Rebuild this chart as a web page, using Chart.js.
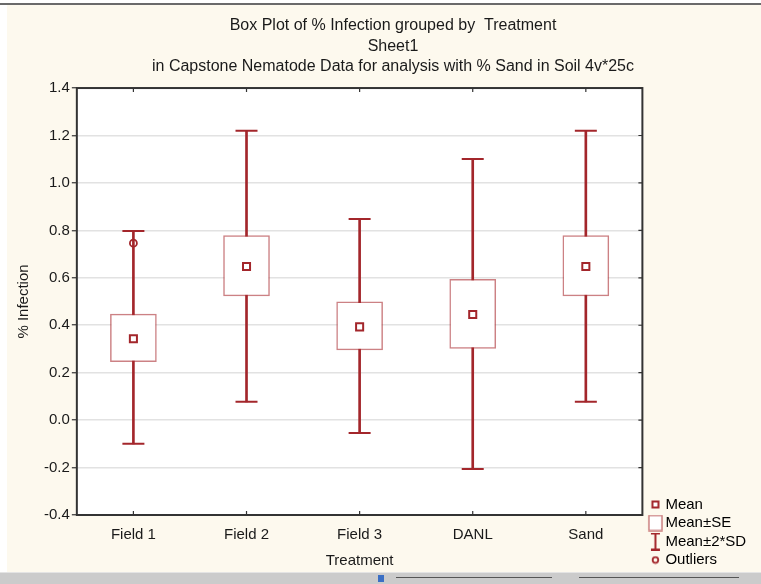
<!DOCTYPE html>
<html>
<head>
<meta charset="utf-8">
<script src="https://cdn.jsdelivr.net/npm/chart.js@4.4.1/dist/chart.umd.min.js"></script>
<style>
  body { margin: 0; background: #ffffff; overflow: hidden; width: 761px; height: 584px; position: relative; }
  #paper { position: absolute; left: 7px; top: 5px; width: 754px; height: 567px; background: #fdf9ee; }
  #topline { position: absolute; left: 0; top: 3px; width: 761px; height: 2px; background: #6a6a6a; }
  #strip { position: absolute; left: 0; top: 572px; width: 761px; height: 12px; background: #cbcbcb; border-top: 1px solid #e4e4e4; }
  .sl { position: absolute; top: 577px; height: 1px; background: #555; }
  #wrap { position: absolute; left: 0; top: 0; }
</style>
</head>
<body>
<div id="paper"></div>
<div id="wrap"><canvas id="chart" width="777" height="571"></canvas></div>
<div id="topline"></div>
<div id="strip"></div>
<div class="sl" style="left:396px;width:156px"></div>
<div class="sl" style="left:579px;width:160px"></div>
<div style="position:absolute;left:378px;top:575px;width:6px;height:7px;background:#3b6fc4"></div>
<script>
var treatments = ['Field 1', 'Field 2', 'Field 3', 'DANL', 'Sand'];
var means = [0.343, 0.648, 0.393, 0.445, 0.648];
var seLow = [0.246, 0.524, 0.296, 0.302, 0.524];
var seHigh = [0.447, 0.778, 0.499, 0.594, 0.778];
var sdLow = [-0.100, 0.077, -0.054, -0.206, 0.077];
var sdHigh = [0.797, 1.220, 0.848, 1.101, 1.220];
var outliers = [0.746, null, null, null, null];
var yTicks = [-0.4, -0.2, 0.0, 0.2, 0.4, 0.6, 0.8, 1.0, 1.2, 1.4];

var dark = '#a3262b';
var light = 'rgba(170, 45, 50, 0.6)';
var font = 'Liberation Sans, Arial, sans-serif';

// legend symbols, shifted right a little inside their box
function symbol(w, h, draw) {
    var c = document.createElement('canvas');
    c.width = w + 7;
    c.height = h;
    var g = c.getContext('2d');
    g.translate(7, 0);
    draw(g);
    return c;
}

var meanIcon = symbol(9, 9, function(g) {
    g.fillStyle = '#fff';
    g.fillRect(1, 1, 7, 7);
    g.strokeStyle = dark;
    g.lineWidth = 2;
    g.strokeRect(1.5, 1.5, 6, 6);
});
var seIcon = symbol(15, 17, function(g) {
    g.fillStyle = '#fff';
    g.fillRect(1, 1, 13, 15);
    g.strokeStyle = light;
    g.lineWidth = 1.5;
    g.strokeRect(1, 1, 13, 15);
});
var sdIcon = symbol(11, 18, function(g) {
    g.strokeStyle = dark;
    g.lineWidth = 2;
    g.beginPath();
    g.moveTo(1, 1); g.lineTo(10, 1);
    g.moveTo(5.5, 1); g.lineTo(5.5, 17);
    g.moveTo(1, 17); g.lineTo(10, 17);
    g.stroke();
});
var outIcon = symbol(9, 9, function(g) {
    g.strokeStyle = dark;
    g.lineWidth = 1.8;
    g.beginPath();
    g.arc(4.5, 4.5, 2.8, 0, Math.PI * 2);
    g.stroke();
});

var framePlugin = {
    id: 'frame',
    beforeDraw: function(chart) {
        var a = chart.chartArea;
        chart.ctx.save();
        chart.ctx.fillStyle = '#ffffff';
        chart.ctx.fillRect(a.left, a.top, a.right - a.left, a.bottom - a.top);
        chart.ctx.restore();
    },
    beforeDatasetsDraw: function(chart) {
        var a = chart.chartArea;
        var g = chart.ctx;
        g.save();
        g.strokeStyle = '#333';
        g.lineWidth = 2;
        g.strokeRect(a.left, a.top, a.right - a.left, a.bottom - a.top);
        g.lineWidth = 1.2;
        g.beginPath();
        var x = chart.scales.x;
        for (var i = 0; i < treatments.length; i++) {
            var px = x.getPixelForTick(i);
            g.moveTo(px, a.top); g.lineTo(px, a.top + 4);
            g.moveTo(px, a.bottom); g.lineTo(px, a.bottom - 4);
        }
        var y = chart.scales.y;
        for (var j = 0; j < y.ticks.length; j++) {
            var py = y.getPixelForTick(j);
            g.moveTo(a.right, py); g.lineTo(a.right - 4, py);
        }
        g.stroke();
        g.restore();
    }
};

function pairs(lo, hi) {
    return lo.map(function(v, i) { return [v, hi[i]]; });
}

var ctx = document.getElementById('chart').getContext('2d');
var chart = new Chart(ctx, {
    type: 'bar',
    data: {
        labels: treatments,
        datasets: [{
            label: 'Mean±2*SD',
            data: pairs(sdLow, sdHigh),
            backgroundColor: dark,
            barThickness: 2,
            grouped: false,
            order: 4
        }, {
            label: 'Mean±SE',
            data: pairs(seLow, seHigh),
            backgroundColor: '#ffffff',
            borderColor: light,
            borderWidth: 1.5,
            borderSkipped: false,
            barThickness: 46,
            grouped: false,
            order: 3
        }, {
            type: 'line',
            label: 'cap high',
            data: sdHigh,
            showLine: false,
            pointStyle: 'line',
            pointRadius: 11,
            pointBorderWidth: 2,
            pointBorderColor: dark,
            order: 2
        }, {
            type: 'line',
            label: 'cap low',
            data: sdLow,
            showLine: false,
            pointStyle: 'line',
            pointRadius: 11,
            pointBorderWidth: 2,
            pointBorderColor: dark,
            order: 2
        }, {
            type: 'line',
            label: 'Mean',
            data: means,
            showLine: false,
            pointStyle: 'rect',
            pointRadius: 5,
            pointBorderWidth: 2,
            pointBorderColor: dark,
            pointBackgroundColor: '#ffffff',
            order: 1
        }, {
            type: 'line',
            label: 'Outliers',
            data: outliers,
            showLine: false,
            pointStyle: 'circle',
            pointRadius: 3.5,
            pointBorderWidth: 1.8,
            pointBorderColor: dark,
            pointBackgroundColor: 'rgba(255,255,255,0)',
            order: 1
        }]
    },
    options: {
        responsive: false,
        animation: false,
        layout: { padding: { left: 9, right: 0, top: 0, bottom: 0 } },
        plugins: {
            tooltip: { enabled: false },
            title: {
                display: true,
                text: ['Box Plot of % Infection grouped by  Treatment', 'Sheet1', 'in Capstone Nematode Data for analysis with % Sand in Soil 4v*25c'],
                color: '#1a1a1a',
                font: { family: font, size: 16, weight: 'normal', lineHeight: 1.28 },
                padding: { top: 15.8, bottom: 10.8 }
            },
            legend: {
                position: 'right',
                align: 'end',
                labels: {
                    usePointStyle: true,
                    boxWidth: 12,
                    boxHeight: 12,
                    padding: 3.5,
                    color: '#1a1a1a',
                    font: { family: font, size: 15 },
                    generateLabels: function() {
                        return [
                            { text: 'Mean', pointStyle: meanIcon, datasetIndex: 4 },
                            { text: 'Mean±SE', pointStyle: seIcon, datasetIndex: 1 },
                            { text: 'Mean±2*SD\u00a0\u00a0\u00a0\u00a0\u00a0', pointStyle: sdIcon, datasetIndex: 0 },
                            { text: 'Outliers', pointStyle: outIcon, datasetIndex: 5 }
                        ];
                    }
                }
            }
        },
        scales: {
            x: {
                offset: true,
                grid: { display: false, drawTicks: false },
                border: { display: false },
                ticks: { color: '#1a1a1a', padding: 10.5, font: { family: font, size: 15 } },
                title: {
                    display: true,
                    text: 'Treatment',
                    color: '#1a1a1a',
                    font: { family: font, size: 15 },
                    padding: { top: -2, bottom: 1 }
                }
            },
            y: {
                min: -0.4,
                max: 1.4,
                afterBuildTicks: function(scale) {
                    scale.ticks = yTicks.map(function(v) { return { value: v }; });
                },
                grid: { color: '#e2e2e2', lineWidth: 1.5, tickLength: 5, tickColor: '#333', tickWidth: 1.2 },
                border: { display: false },
                ticks: {
                    color: '#1a1a1a',
                    padding: 2,
                    font: { family: font, size: 15 },
                    callback: function(v) { return Number(v).toFixed(1); }
                },
                title: {
                    display: true,
                    text: '% Infection',
                    color: '#1a1a1a',
                    font: { family: font, size: 15 },
                    padding: { top: 6, bottom: 9 }
                }
            }
        }
    },
    plugins: [framePlugin]
});
</script>
</body>
</html>
